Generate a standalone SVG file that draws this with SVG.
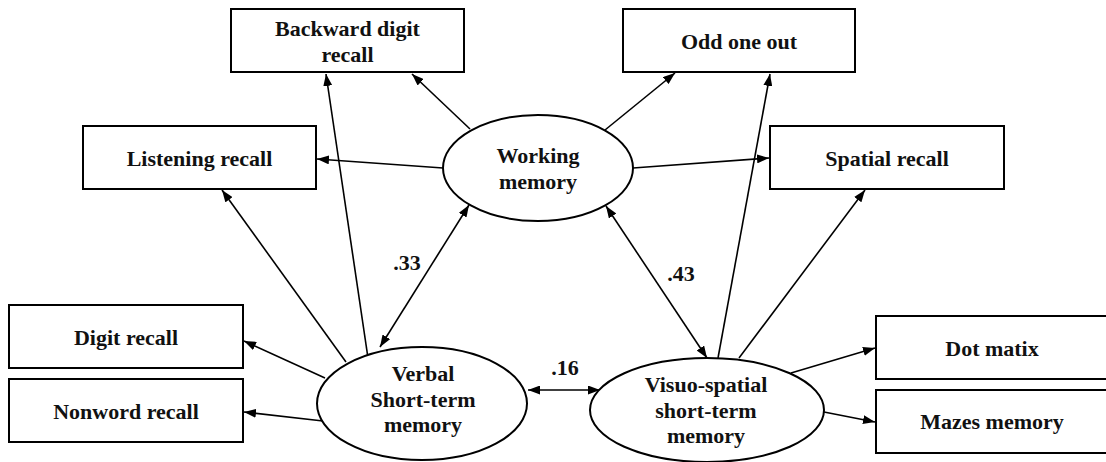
<svg xmlns="http://www.w3.org/2000/svg" width="1106" height="462" viewBox="0 0 1106 462">
<style>
.box{fill:#fff;stroke:#000;stroke-width:2}
.ell{fill:#fff;stroke:#000;stroke-width:2}
.t{font-family:"Liberation Serif","Times New Roman",serif;font-weight:bold;font-size:22px;fill:#111;text-anchor:middle}
.c line{stroke:#000;stroke-width:1.6;fill:none}
</style>
<defs>
<marker id="ah" viewBox="0 0 12 9" refX="12" refY="4.5" markerWidth="12" markerHeight="9" markerUnits="userSpaceOnUse" orient="auto-start-reverse">
<path d="M0,0 L12,4.5 L0,9 z" fill="#000"/>
</marker>
</defs>
<rect width="1106" height="462" fill="#fff"/>
<g class="c" id="connectors">
<line x1="470" y1="129" x2="412" y2="74" marker-end="url(#ah)"/>
<line x1="443" y1="168" x2="317" y2="159" marker-end="url(#ah)"/>
<line x1="368" y1="358" x2="326" y2="74" marker-end="url(#ah)"/>
<line x1="346" y1="362" x2="222" y2="190" marker-end="url(#ah)"/>
<line x1="380" y1="347" x2="469" y2="205" marker-start="url(#ah)" marker-end="url(#ah)"/>
<line x1="605" y1="130" x2="675" y2="73" marker-end="url(#ah)"/>
<line x1="633" y1="168" x2="769" y2="158" marker-end="url(#ah)"/>
<line x1="718" y1="358" x2="770" y2="74" marker-end="url(#ah)"/>
<line x1="739" y1="358" x2="865" y2="190" marker-end="url(#ah)"/>
<line x1="606" y1="206" x2="707" y2="358" marker-start="url(#ah)" marker-end="url(#ah)"/>
<line x1="528" y1="390" x2="600" y2="390" marker-start="url(#ah)" marker-end="url(#ah)"/>
<line x1="325" y1="378" x2="244" y2="341" marker-end="url(#ah)"/>
<line x1="323" y1="421" x2="244" y2="412" marker-end="url(#ah)"/>
<line x1="791" y1="373" x2="875" y2="348" marker-end="url(#ah)"/>
<line x1="824" y1="412" x2="875" y2="422" marker-end="url(#ah)"/>
</g>
<g id="backward-digit-recall"><rect class="box" x="231" y="9" width="233" height="63"/><text class="t" x="347.5" y="36">Backward digit</text><text class="t" x="347.5" y="62">recall</text></g>
<g id="listening-recall"><rect class="box" x="83" y="126" width="233" height="63"/><text class="t" x="199.5" y="166">Listening recall</text></g>
<g id="odd-one-out"><rect class="box" x="623" y="9" width="232" height="63"/><text class="t" x="739" y="49">Odd one out</text></g>
<g id="spatial-recall"><rect class="box" x="770" y="126" width="234" height="63"/><text class="t" x="887" y="166">Spatial recall</text></g>
<g id="digit-recall"><rect class="box" x="9" y="305" width="234" height="63"/><text class="t" x="126" y="345">Digit recall</text></g>
<g id="nonword-recall"><rect class="box" x="9" y="379" width="234" height="63"/><text class="t" x="126" y="419">Nonword recall</text></g>
<g id="dot-matix"><rect class="box" x="876" y="316" width="234" height="63"/><text class="t" x="992" y="356">Dot matix</text></g>
<g id="mazes-memory"><rect class="box" x="876" y="390" width="234" height="63"/><text class="t" x="992" y="429">Mazes memory</text></g>
<g id="working-memory"><ellipse class="ell" cx="538" cy="168" rx="95" ry="53"/><text class="t" x="538" y="163">Working</text><text class="t" x="538" y="189">memory</text></g>
<g id="verbal-stm"><ellipse class="ell" cx="422" cy="403.5" rx="105" ry="56.5"/><text class="t" x="423" y="381">Verbal</text><text class="t" x="423" y="407">Short-term</text><text class="t" x="423" y="432">memory</text></g>
<g id="visuo-spatial-stm"><ellipse class="ell" cx="707" cy="410" rx="117" ry="52"/><text class="t" x="706" y="392">Visuo-spatial</text><text class="t" x="706" y="418">short-term</text><text class="t" x="706" y="443">memory</text></g>
<g id="labels">
<text class="t" x="407" y="270">.33</text>
<text class="t" x="681" y="281">.43</text>
<text class="t" x="565" y="375">.16</text>
</g>
</svg>
